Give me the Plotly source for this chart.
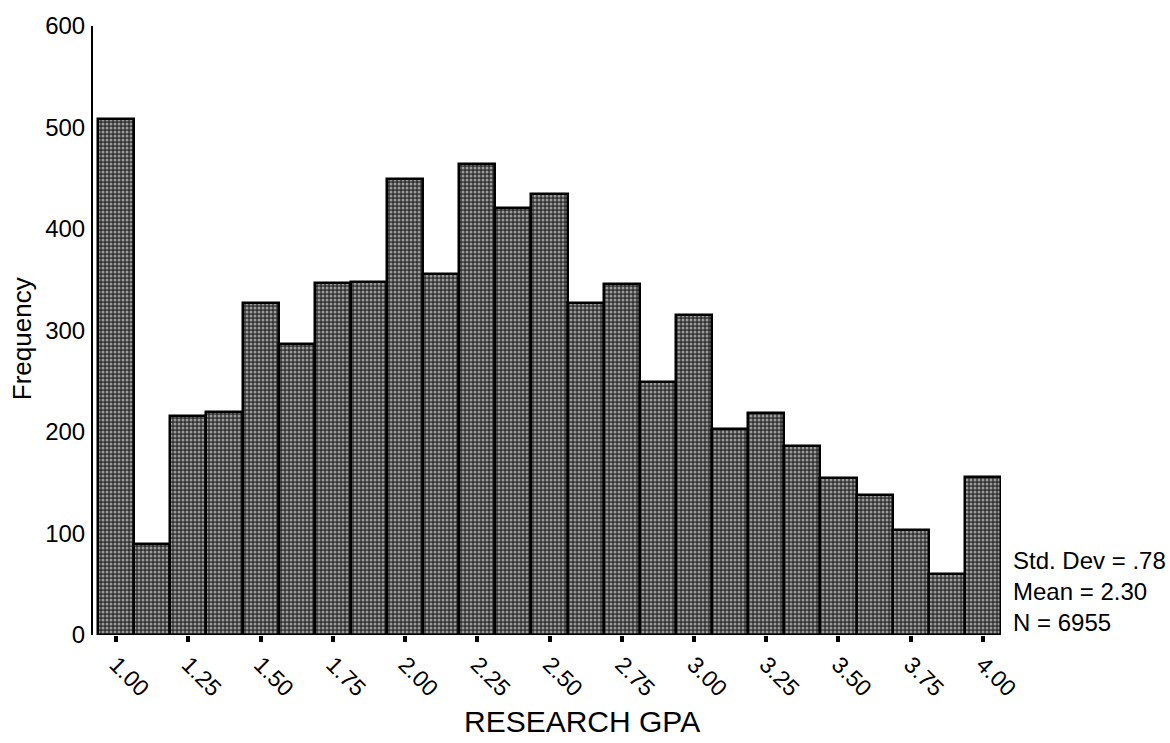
import plotly.graph_objects as go

# Histogram of research GPA, bins of width 0.125
bin_centers = [1.000, 1.125, 1.250, 1.375, 1.500, 1.625, 1.750, 1.875, 2.000,
               2.125, 2.250, 2.375, 2.500, 2.625, 2.750, 2.875, 3.000, 3.125,
               3.250, 3.375, 3.500, 3.625, 3.750, 3.875, 4.000]
frequency = [508, 90, 216, 220, 327, 287, 347, 348, 449, 356, 464, 421, 434,
             327, 346, 249, 315, 203, 219, 186, 155, 138, 103, 60, 156]
bin_width = 0.125

tick_values = [1.00, 1.25, 1.50, 1.75, 2.00, 2.25, 2.50, 2.75, 3.00, 3.25, 3.50, 3.75, 4.00]
tick_labels = ["1.00", "1.25", "1.50", "1.75", "2.00", "2.25", "2.50", "2.75",
               "3.00", "3.25", "3.50", "3.75", "4.00"]
y_ticks = [0, 100, 200, 300, 400, 500, 600]

stats_text = "Std. Dev = .78<br>Mean = 2.30<br>N = 6955"

FONT = "Arial, Liberation Sans, sans-serif"

fig = go.Figure()
fig.add_trace(go.Bar(
    x=bin_centers,
    y=frequency,
    width=bin_width,
    marker=dict(
        color="#333333",
        line=dict(color="black", width=2.5),
        pattern=dict(shape=".", fgcolor="#ffffff", size=4, solidity=0.45),
    ),
    showlegend=False,
))

fig.update_layout(
    width=1170,
    height=743,
    margin=dict(l=93, r=169, t=24, b=108),
    paper_bgcolor="white",
    plot_bgcolor="white",
    bargap=0,
    font=dict(family=FONT, color="black", size=24),
    xaxis=dict(
        range=[0.92, 4.0625],
        tickvals=tick_values,
        ticktext=tick_labels,
        tickangle=45,
        ticks="outside",
        ticklen=6,
        tickwidth=4,
        tickcolor="black",
        showgrid=False,
        zeroline=False,
        showline=False,
        tickfont=dict(size=23),
    ),
    yaxis=dict(
        range=[0, 600],
        tickvals=y_ticks,
        showgrid=False,
        zeroline=False,
        showline=True,
        linecolor="black",
        linewidth=2,
        ticks="",
        ticklabelstandoff=1,
        tickfont=dict(size=24),
    ),
    annotations=[
        dict(text=stats_text, xref="paper", yref="y", x=1, y=43,
             xanchor="left", yanchor="middle", xshift=10, align="left",
             showarrow=False, font=dict(size=24)),
        dict(text="Frequency", xref="paper", yref="paper", x=-0.078, y=0.486,
             xanchor="center", yanchor="middle", textangle=-90,
             showarrow=False, font=dict(size=26)),
        dict(text="RESEARCH GPA", xref="paper", yref="paper", x=0.5386, y=-0.142,
             xanchor="center", yanchor="middle",
             showarrow=False, font=dict(size=30)),
    ],
)

fig.write_html("out.html")
